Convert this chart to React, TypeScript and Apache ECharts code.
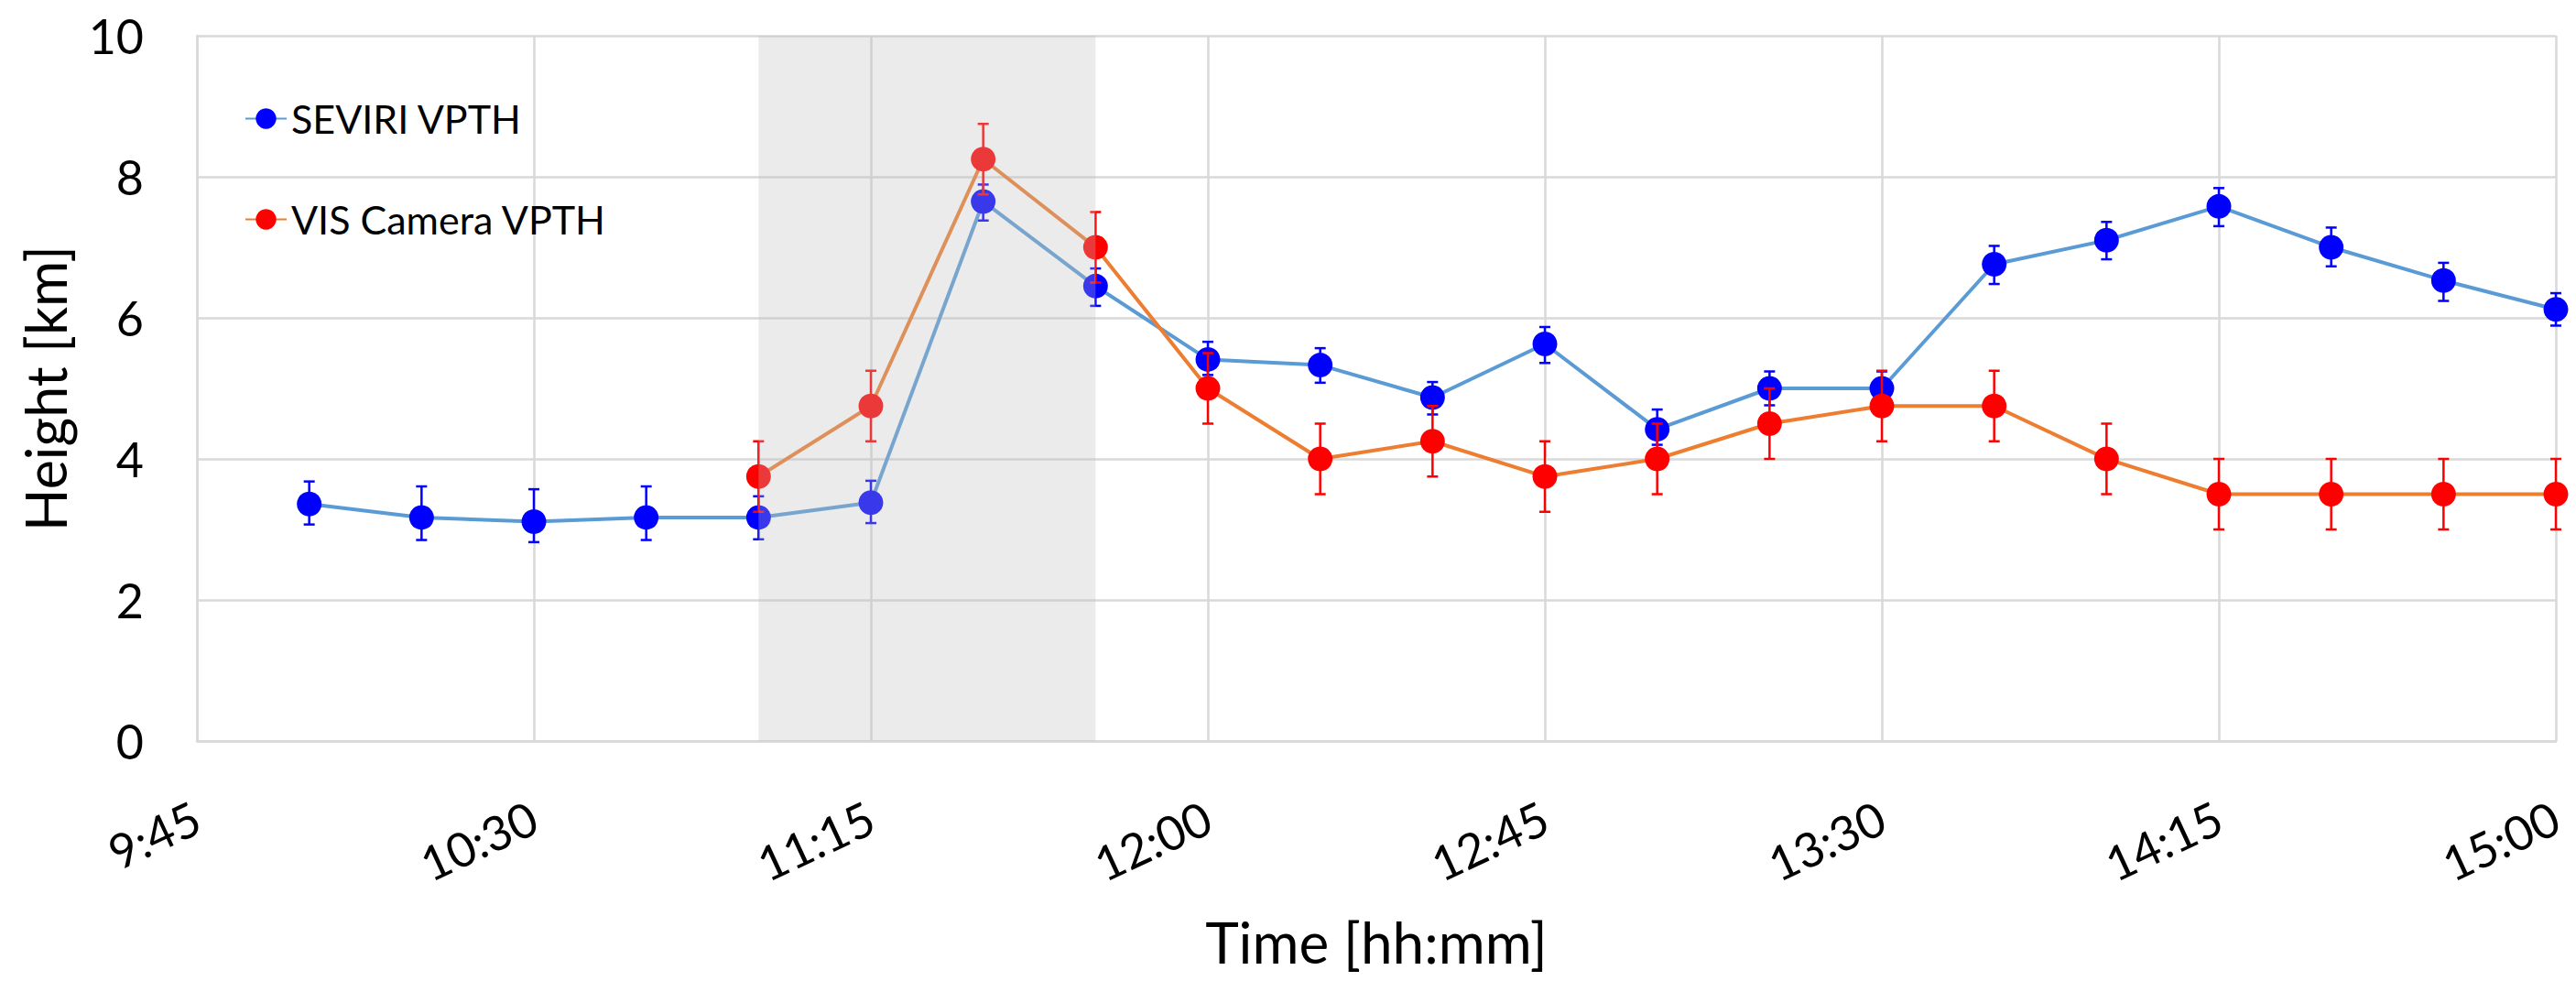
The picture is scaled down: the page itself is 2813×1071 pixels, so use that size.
import React, { useEffect, useRef } from "react";
import * as echarts from "echarts";

// ---- data ----
const seviriTimes = ["10:00","10:15","10:30","10:45","11:00","11:15","11:30","11:45","12:00","12:15","12:30","12:45","13:00","13:15","13:30","13:45","14:00","14:15","14:30","14:45","15:00"];
const seviriHeight = [3.36,3.17,3.11,3.17,3.17,3.38,7.65,6.45,5.41,5.33,4.87,5.63,4.42,5.0,5.0,6.76,7.1,7.58,7.0,6.53,6.12];
const seviriErrUp = [0.32,0.44,0.46,0.44,0.3,0.31,0.24,0.25,0.25,0.24,0.22,0.24,0.28,0.24,0.24,0.26,0.26,0.26,0.28,0.25,0.23];
const seviriErrDown = [0.29,0.32,0.29,0.32,0.31,0.29,0.27,0.28,0.22,0.25,0.24,0.27,0.22,0.24,0.22,0.28,0.27,0.28,0.27,0.29,0.23];

const visTimes = ["11:00","11:15","11:30","11:45","12:00","12:15","12:30","12:45","13:00","13:15","13:30","13:45","14:00","14:15","14:30","14:45","15:00"];
const visHeight = [3.75,4.75,8.25,7.0,5.0,4.0,4.25,3.75,4.0,4.5,4.75,4.75,4.0,3.5,3.5,3.5,3.5];
const visErr = [0.5,0.5,0.5,0.5,0.5,0.5,0.5,0.5,0.5,0.5,0.5,0.5,0.5,0.5,0.5,0.5,0.5];

const xAxisStart = "9:45";
const xAxisEnd = "15:00";
const xTickStepMin = 45;
const yAxisMin = 0;
const yAxisMax = 10;
const yTickStep = 2;
const shadedPeriod = ["11:00", "11:45"];

const SEVIRI = "SEVIRI VPTH";
const VIS = "VIS Camera VPTH";

const toMin = (t: string) => {
  const [h, m] = t.split(":").map(Number);
  return h * 60 + m;
};
const fmt = (v: number) => `${Math.floor(v / 60)}:${String(Math.round(v % 60)).padStart(2, "0")}`;

const FONT = "Lato";

export default function App() {
  const ref = useRef<HTMLDivElement>(null);
  useEffect(() => {
    if (!ref.current) return;
    const chart = echarts.init(ref.current, null, { renderer: "svg" });

    const seviriData = seviriTimes.map((t, i) => [toMin(t), seviriHeight[i]]);
    const visData = visTimes.map((t, i) => [toMin(t), visHeight[i]]);
    const seviriErrData = seviriTimes.map((t, i) => [toMin(t), seviriHeight[i] - seviriErrDown[i], seviriHeight[i] + seviriErrUp[i]]);
    const visErrData = visTimes.map((t, i) => [toMin(t), visHeight[i] - visErr[i], visHeight[i] + visErr[i]]);

    const errRender = (color: string) => (params: any, api: any) => {
      const x = api.value(0);
      const lo = api.coord([x, api.value(1)]);
      const hi = api.coord([x, api.value(2)]);
      const cap = 6;
      const style = { stroke: color, lineWidth: 2.5 };
      return {
        type: "group",
        children: [
          { type: "line", shape: { x1: lo[0], y1: lo[1], x2: hi[0], y2: hi[1] }, style },
          { type: "line", shape: { x1: lo[0] - cap, y1: lo[1], x2: lo[0] + cap, y2: lo[1] }, style },
          { type: "line", shape: { x1: hi[0] - cap, y1: hi[1], x2: hi[0] + cap, y2: hi[1] }, style },
        ],
      };
    };

    const gridColor = "#d9d9d9";

    chart.setOption({
      animation: false,
      backgroundColor: "#ffffff",
      textStyle: { fontFamily: FONT },
      grid: { left: 215, right: 22, top: 39, bottom: 262, containLabel: false },
      legend: {
        data: [SEVIRI, VIS],
        orient: "vertical",
        left: 262,
        top: 103,
        itemGap: 67,
        itemWidth: 45,
        itemHeight: 28,
        textStyle: { fontFamily: FONT, fontSize: 43, color: "#000" },
      },
      xAxis: {
        type: "value",
        min: toMin(xAxisStart),
        max: toMin(xAxisEnd),
        interval: xTickStepMin,
        name: "Time [hh:mm]",
        nameLocation: "middle",
        nameGap: 188,
        nameTextStyle: { fontFamily: FONT, fontSize: 62, color: "#000" },
        axisLine: { show: true, lineStyle: { color: gridColor, width: 2.5 } },
        axisTick: { show: false },
        axisLabel: {
          formatter: (v: number) => fmt(v),
          rotate: 25,
          margin: 80,
          fontFamily: FONT,
          fontSize: 52,
          color: "#000",
        },
        splitLine: { show: true, lineStyle: { color: gridColor, width: 2.5 } },
      },
      yAxis: {
        type: "value",
        min: yAxisMin,
        max: yAxisMax,
        interval: yTickStep,
        name: "Height [km]",
        nameLocation: "middle",
        nameGap: 135,
        nameTextStyle: { fontFamily: FONT, fontSize: 61, color: "#000" },
        axisLine: { show: true, lineStyle: { color: gridColor, width: 2.5 } },
        axisTick: { show: false },
        axisLabel: { margin: 58, fontFamily: FONT, fontSize: 52, color: "#000" },
        splitLine: { show: true, lineStyle: { color: gridColor, width: 2.5 } },
      },
      series: [
        {
          name: SEVIRI + " err",
          type: "custom",
          renderItem: errRender("#0000ff"),
          data: seviriErrData,
          encode: { x: 0, y: [1, 2] },
          z: 2,
          silent: true,
        },
        {
          name: SEVIRI,
          type: "line",
          data: seviriData,
          symbol: "circle",
          symbolSize: 27,
          lineStyle: { color: "#5b9bd5", width: 4 },
          itemStyle: { color: "#0000ff" },
          z: 3,
        },
        {
          name: VIS + " err",
          type: "custom",
          renderItem: errRender("#ff0000"),
          data: visErrData,
          encode: { x: 0, y: [1, 2] },
          z: 4,
          silent: true,
        },
        {
          name: VIS,
          type: "line",
          data: visData,
          symbol: "circle",
          symbolSize: 27,
          lineStyle: { color: "#ed7d31", width: 4 },
          itemStyle: { color: "#ff0000" },
          z: 5,
        },
        {
          name: "shade",
          type: "custom",
          silent: true,
          z: 10,
          data: [[toMin(shadedPeriod[0]), toMin(shadedPeriod[1])]],
          encode: { x: [0, 1] },
          renderItem: (params: any, api: any) => {
            const a = api.coord([api.value(0), yAxisMin]);
            const b = api.coord([api.value(1), yAxisMin]);
            const cs = params.coordSys;
            return {
              type: "rect",
              shape: { x: a[0], y: cs.y, width: b[0] - a[0], height: cs.height },
              style: { fill: "rgba(190,190,190,0.3)" },
            };
          },
        },
      ],
    });
    return () => chart.dispose();
  }, []);
  return (
    <div
      ref={ref}
      style={{ position: "fixed", left: 0, top: 0, width: 2813, height: 1071, background: "#fff" }}
    />
  );
}
